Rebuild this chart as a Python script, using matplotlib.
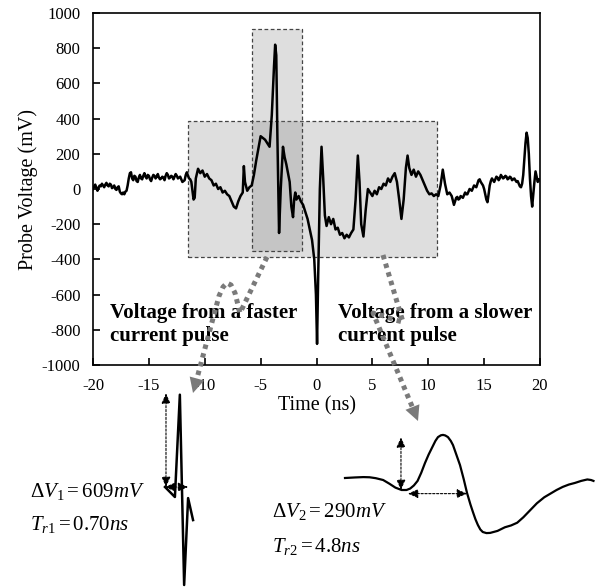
import matplotlib
matplotlib.use("Agg")
import matplotlib.pyplot as plt
from matplotlib.patches import Rectangle

plt.rcParams['font.family'] = ['Liberation Serif', 'DejaVu Serif']
plt.rcParams['mathtext.fontset'] = 'custom'
plt.rcParams['mathtext.rm'] = 'Liberation Serif'
plt.rcParams['mathtext.it'] = 'Liberation Serif:italic'
plt.rcParams['mathtext.bf'] = 'Liberation Serif:bold'
plt.rcParams['axes.unicode_minus'] = False

# ---------------- data ----------------
# quiet lead-in, -20 .. -11.2 ns
time_a = [-20.0, -19.9, -19.8, -19.7, -19.6, -19.5, -19.4, -19.3, -19.2, -19.1, -19.0,
          -18.9, -18.8, -18.7, -18.6, -18.5, -18.4, -18.3, -18.2, -18.1, -18.0,
          -17.9, -17.8, -17.7, -17.6, -17.5, -17.4, -17.3, -17.2, -17.1, -17.0,
          -16.9, -16.8, -16.7, -16.6, -16.5, -16.4, -16.3, -16.2, -16.1, -16.0,
          -15.9, -15.8, -15.7, -15.6, -15.5, -15.4, -15.3, -15.2, -15.1, -15.0,
          -14.9, -14.8, -14.7, -14.6, -14.5, -14.4, -14.3, -14.2, -14.1, -14.0,
          -13.9, -13.8, -13.7, -13.6, -13.5, -13.4, -13.3, -13.2, -13.1, -13.0,
          -12.9, -12.8, -12.7, -12.6, -12.5, -12.4, -12.3, -12.2, -12.1, -12.0,
          -11.9, -11.8, -11.7, -11.6, -11.5, -11.4, -11.3, -11.2]
volt_a = [0, 15, 25, 5, -10, 10, 20, 15, 30, 20, 10,
          25, 35, 20, 15, 30, 25, 5, 10, 20, 0,
          -5, 10, 15, -15, -25, -30, -20, -30, -15, -10,
          20, 60, 90, 95, 60, 50, 75, 70, 45, 40,
          65, 80, 60, 55, 75, 90, 70, 60, 80, 75,
          55, 45, 65, 80, 75, 60, 70, 85, 65, 55,
          60, 70, 65, 50, 75, 90, 80, 60, 65, 75,
          70, 55, 70, 85, 75, 60, 65, 70, 55, 40,
          45, 50, 80, 95, 75, 60, 55, 40]
# active region, -11 .. 12.3 ns
time_b = [-11.0, -10.9, -10.8, -10.6, -10.4, -10.2, -10.0, -9.8, -9.6, -9.4, -9.2,
          -9.0, -8.8, -8.6, -8.4, -8.2, -8.0, -7.8, -7.6, -7.4, -7.2, -7.0, -6.8,
          -6.6, -6.5, -6.4, -6.2, -6.0, -5.8, -5.6, -5.4, -5.2, -5.0, -4.8, -4.6,
          -4.4, -4.2, -4.0, -3.8, -3.7, -3.6, -3.5, -3.35, -3.2, -3.0, -2.85, -2.7,
          -2.55, -2.4, -2.25, -2.1, -2.0, -1.9, -1.8, -1.6, -1.4, -1.2, -1.0, -0.8,
          -0.6, -0.4, -0.2, -0.05, 0.05, 0.15, 0.3, 0.45, 0.6, 0.75, 0.9, 1.1, 1.3,
          1.5, 1.7, 1.9, 2.1, 2.3, 2.5, 2.7, 2.9, 3.1, 3.3, 3.5, 3.7, 3.85, 4.0,
          4.2, 4.4, 4.6, 4.8, 5.0, 5.2, 5.4, 5.6, 5.8, 6.0, 6.2, 6.4, 6.6, 6.8,
          7.0, 7.2, 7.4, 7.6, 7.8, 8.0, 8.15, 8.3, 8.5, 8.7, 8.9, 9.1, 9.3, 9.5,
          9.7, 9.9, 10.1, 10.3, 10.5, 10.7, 10.9, 11.1, 11.3, 11.5, 11.7, 11.9,
          12.1, 12.3]
volt_b = [-60, -50, 60, 115, 90, 105, 70, 85, 60, 50, 20,
          30, 0, 10, -20, -10, -30, -40, -70, -100, -110, -70, -40,
          -20, 130, 40, -10, 10, 20, 80, 160, 230, 300, 290, 280,
          260, 240, 420, 700, 820, 760, 300, -250, 0, 240, 180, 140,
          90, 40, -100, -160, -60, -20, -60, -40, -70, -90, -130, -170,
          -230, -290, -400, -600, -880, -500, 0, 240, 60, -150, -210, -160, -200,
          -170, -230, -220, -260, -250, -280, -260, -275, -250, -230, -60, 190, 40, -200,
          -270, -120, 0, -20, -40, -10, -30, 10, 0, 30, 20, 60, 40, 70,
          90, 40, -60, -170, -60, 120, 190, 120, 80, 110, 70, 100, 80, 50,
          20, -10, -30, -25, -40, -30, -40, 20, 110, 30, -30, -20,
          -40, -90]
# tail, 12.5 .. 20 ns
time_c = [12.5, 12.6, 12.7, 12.8, 12.9, 13.0, 13.1, 13.2, 13.3, 13.4, 13.5, 13.6,
          13.7, 13.8, 13.9, 14.0, 14.1, 14.2, 14.3, 14.4, 14.5, 14.6, 14.7, 14.8,
          14.9, 15.0, 15.1, 15.2, 15.3, 15.4, 15.5, 15.6, 15.7, 15.8, 15.9, 16.0,
          16.1, 16.2, 16.3, 16.4, 16.5, 16.6, 16.7, 16.8, 16.9, 17.0, 17.1, 17.2,
          17.3, 17.4, 17.5, 17.6, 17.7, 17.8, 17.9, 18.0, 18.1, 18.2, 18.3, 18.4,
          18.5, 18.6, 18.7, 18.8, 18.9, 19.0, 19.1, 19.2, 19.3, 19.4, 19.5, 19.6,
          19.7, 19.8, 19.9, 20.0]
volt_c = [-50, -45, -60, -55, -40, -45, -50, -35, -20, -30, -30, -15,
          0, -5, -10, 5, 20, 15, 10, 30, 50, 55, 40, 30,
          20, 0, -30, -60, -75, -30, 20, 45, 60, 50, 40, 55,
          70, 65, 50, 60, 80, 70, 60, 65, 75, 70, 55, 60,
          70, 65, 50, 55, 60, 50, 40, 45, 30, 15, 10, 30,
          80, 170, 260, 320, 290, 200, 60, -40, -100, -30, 40, 100,
          70, 40, 55, 50]

time_ns = time_a + time_b + time_c
voltage_mv = volt_a + volt_b + volt_c

x_ticks = [-20, -15, -10, -5, 0, 5, 10, 15, 20]
y_ticks = [-1000, -800, -600, -400, -200, 0, 200, 400, 600, 800, 1000]

# highlighted windows (time start, time end, voltage low, voltage high)
slow_window = [-11.5, 10.8, -385, 385]
fast_window = [-5.77, -1.3, -352, 909]

# inset: faster pulse (ns, mV)
fast_t = [0.0, 0.30, 0.45, 0.58, 0.70, 0.85]
fast_v = [0, -65, 600, -637, -72, -215]
dV1, Tr1 = 609, 0.70

# inset: slower pulse (ns, mV)
slow_t = [0.0, 0.8, 1.5, 2.0, 2.5, 3.1, 3.6, 4.1, 4.6, 5.0, 5.3, 5.6, 5.9, 6.2, 6.5,
          6.8, 7.1, 7.35, 7.56, 7.8, 7.97, 8.15, 8.37, 8.6, 8.78, 9.05, 9.35, 9.65,
          9.92, 10.2, 10.4, 10.6, 10.8, 11.0, 11.2, 11.5, 11.8, 12.4, 13.0, 13.5,
          14.0, 14.5, 15.0, 15.6, 16.2, 16.7, 17.2, 17.7, 18.2, 18.7, 19.2, 19.7,
          20.0, 20.2]
slow_v = [11, 14, 16, 15, 10, 0, -20, -42, -55, -55, -47, -30, -5, 40, 93,
          140, 181, 215, 236, 246, 248, 245, 236, 215, 192, 140, 82, 5,
          -71, -135, -176, -215, -247, -272, -286, -292, -291, -280, -260, -250,
          -235, -205, -170, -128, -95, -75, -55, -38, -25, -16, -5, 3,
          0, -5]
dV2, Tr2 = 290, 4.8
slow_base_t, slow_base_v = 4.55, -55

W, H = 596, 588
fig = plt.figure(figsize=(W / 100, H / 100), dpi=100)
ax = fig.add_axes([93 / W, 1 - 365 / H, (540 - 93) / W, (365 - 13) / H])

for (t0, t1, v0, v1) in (slow_window, fast_window):
    ax.add_patch(Rectangle((t0, v0), t1 - t0, v1 - v0, facecolor=(0.5, 0.5, 0.5, 0.26),
                           edgecolor='#444444', lw=0.9, ls=(0, (3, 2)), zorder=1))

ax.plot(time_ns, voltage_mv, color='black', lw=1.8, zorder=3)

ax.set_xlim(-20, 20)
ax.set_ylim(-1000, 1000)
ax.set_xticks(x_ticks)
ax.set_yticks(y_ticks)
ax.tick_params(direction='in', length=5, width=1.2, labelsize=12, pad=9,
               top=False, right=False)
for s in ax.spines.values():
    s.set_linewidth(1.2)
ax.set_xlabel('Time (ns)', fontsize=14.5, labelpad=2)
ax.set_ylabel('Probe Voltage (mV)', fontsize=14.5, labelpad=3)

ax.text(-18.48, -770, 'Voltage from a faster\ncurrent pulse', fontsize=15,
        fontweight='bold', va='center', ha='left', linespacing=1.15, zorder=4)
ax.text(1.92, -770, 'Voltage from a slower\ncurrent pulse', fontsize=15,
        fontweight='bold', va='center', ha='left', linespacing=1.15, zorder=4)

# ---------- insets ----------
ax_f = fig.add_axes([150 / W, 0, 50 / W, (588 - 385) / H])
ax_f.set_xlim(-15 / 33, 35 / 33)
ax_f.set_ylim((487 - 588) * 6.5, (487 - 385) * 6.5)
ax_f.axis('off')
ax_f.plot(fast_t, fast_v, color='black', lw=1.8)
aprops = dict(arrowstyle='<|-|>,head_length=0.5,head_width=0.22', color='black',
              lw=0.8, ls=(0, (2, 1.5)), shrinkA=0, shrinkB=0, mutation_scale=12)
ax_f.annotate('', xy=(0.03, dV1), xytext=(0.03, 0), arrowprops=aprops)
ax_f.annotate('', xy=(Tr1, 0), xytext=(0.0, 0), arrowprops=aprops)

ax_s = fig.add_axes([340 / W, 1 - 545 / H, 256 / W, 125 / H])
ax_s.set_xlim(-5 / 12.3, 251 / 12.3)
ax_s.set_ylim(-65 * 5.5, 60 * 5.5)
ax_s.axis('off')
ax_s.plot(slow_t, slow_v, color='black', lw=1.6)
ax_s.annotate('', xy=(slow_base_t, slow_base_v + dV2), xytext=(slow_base_t, slow_base_v),
              arrowprops=aprops)
ax_s.annotate('', xy=(5.12 + Tr2, -75), xytext=(5.12, -75), arrowprops=aprops)

fig.text(30 / W, 1 - 497 / H, r'$\Delta V_1 = %dmV$' % dV1, fontsize=15, va='baseline')
fig.text(30 / W, 1 - 530 / H, r'$T_{r1} = %.2fns$' % Tr1, fontsize=15, va='baseline')
fig.text(272 / W, 1 - 517 / H, r'$\Delta V_2 = %dmV$' % dV2, fontsize=15, va='baseline')
fig.text(272 / W, 1 - 552 / H, r'$T_{r2} = %.1fns$' % Tr2, fontsize=15, va='baseline')

# ---------- dotted connector arrows (overlay in pixel space) ----------
ov = fig.add_axes([0, 0, 1, 1], zorder=10)
ov.set_xlim(0, W)
ov.set_ylim(H, 0)
ov.axis('off')
ov.patch.set_alpha(0)
gray = '#7a7a7a'
paths = [
    [(267, 257), (240, 313), (235, 293), (231, 285), (227, 283), (223, 287), (219, 296), (196, 382)],
    [(383, 255), (403, 322), (395, 320), (384, 316), (373, 313), (414, 411)],
]
tips = [(193, 393), (418, 421)]
for p, tip in zip(paths, tips):
    xs, ys = zip(*p)
    ov.plot(xs, ys, color=gray, lw=3.6, ls=(0, (0.9, 0.9)), dash_capstyle='butt',
            solid_joinstyle='round')
    ov.annotate('', xy=tip, xytext=p[-1],
                arrowprops=dict(arrowstyle='-|>,head_length=0.9,head_width=0.45',
                                color=gray, lw=0, shrinkA=0, shrinkB=0, mutation_scale=12))

fig.savefig('out.png', dpi=100)
